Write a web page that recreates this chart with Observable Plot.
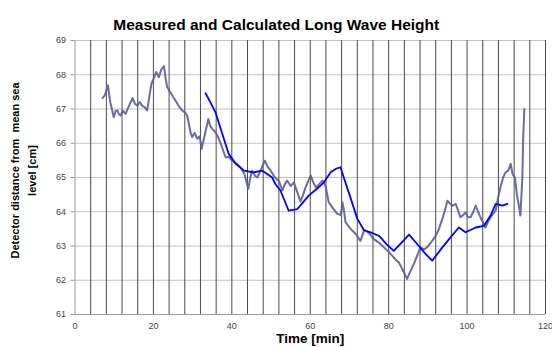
<!DOCTYPE html>
<html>
<head>
<meta charset="utf-8">
<script src="https://cdn.jsdelivr.net/npm/d3@7"></script>
<script src="https://cdn.jsdelivr.net/npm/@observablehq/plot@0.6"></script>
<style>
  html, body { margin: 0; padding: 0; background: #fff; }
</style>
</head>
<body>
<div id="chart"></div>
<script>
const titleText = "Measured and Calculated Long Wave Height";
const xLabel = "Time [min]";
const yLabel = "Detector distance from  mean sea\nlevel [cm]";
const xTicks = [0, 20, 40, 60, 80, 100, 120];
const yTicks = [61, 62, 63, 64, 65, 66, 67, 68, 69];

const measuredTime = [7, 7.6, 8.4, 9.0, 9.9, 10.4, 10.8, 11.2, 11.6, 12.2, 12.9, 13.8, 14.7, 15.3, 15.9, 16.5, 17.1, 17.8, 18.4, 19.0, 19.5, 20.1, 20.7, 21.4, 22.0, 22.7, 23.1, 23.5, 24.5, 25.6, 26.4, 27.3, 28.0, 28.6, 29.5, 29.9, 30.5, 31.2, 31.8, 32.3, 33.2, 34.0, 34.5, 35.0, 35.6, 36.3, 37.3, 38.4, 39.2, 40.1, 41.2, 42.2, 43.2, 44.2, 44.7, 45.2, 45.9, 46.5, 47.5, 48.4, 49.2, 49.9, 51.0, 52.0, 52.9, 53.5, 54.1, 55.0, 55.8, 56.6, 57.5, 58.2, 58.8, 59.5, 60.1, 60.8, 61.4, 62.2, 63.1, 63.9, 64.7, 65.8, 66.9, 67.8, 68.2, 68.6, 69.0, 70.3, 71.6, 72.2, 72.8, 73.7, 74.1, 75.2, 76.2, 77.5, 78.8, 79.8, 80.9, 81.8, 82.6, 83.6, 84.7, 85.5, 86.4, 87.2, 88.1, 89.0, 89.8, 90.4, 91.1, 92.0, 92.8, 94.0, 95.0, 95.6, 96.2, 97.1, 98.3, 99.0, 99.6, 100.2, 100.9, 101.6, 102.2, 102.8, 103.4, 104.0, 104.7, 105.3, 106.0, 106.7, 107.3, 107.9, 108.5, 109.2, 109.8, 110.5, 111.1, 111.6, 112.2, 112.7, 113.2, 113.6, 114.1, 114.3, 114.6];
const measuredValue = [67.32, 67.4, 67.69, 67.2, 66.76, 66.95, 66.96, 66.85, 66.81, 66.95, 66.86, 67.1, 67.32, 67.15, 67.1, 67.2, 67.1, 67.05, 66.96, 67.4, 67.74, 67.9, 68.08, 67.93, 68.15, 68.25, 67.9, 67.64, 67.45, 67.25, 67.1, 66.96, 66.9, 66.81, 66.3, 66.18, 66.3, 66.13, 66.2, 65.84, 66.3, 66.71, 66.5, 66.42, 66.35, 66.23, 65.95, 65.59, 65.6, 65.49, 65.4, 65.3, 65.1, 64.67, 65.0, 65.2, 65.05, 65.0, 65.25, 65.49, 65.3, 65.2, 65.0, 64.9, 64.62, 64.8, 64.91, 64.75, 64.86, 64.6, 64.3, 64.5, 64.71, 64.9, 65.06, 64.85, 64.71, 64.8, 64.91, 64.76, 64.28, 64.1, 63.94, 63.9, 64.28, 64.03, 63.69, 63.5, 63.35, 63.25, 63.15, 63.45, 63.45, 63.35, 63.2, 63.1, 62.96, 62.85, 62.72, 62.6, 62.52, 62.3, 62.04, 62.25, 62.47, 62.7, 62.96, 62.9, 62.96, 63.05, 63.15, 63.3, 63.49, 63.9, 64.32, 64.25, 64.17, 64.23, 63.84, 63.9, 63.98, 63.85, 63.84, 64.0, 64.18, 64.0, 63.84, 63.7, 63.54, 63.7, 63.84, 63.95, 64.03, 64.4, 64.71, 65.0, 65.15, 65.2, 65.4, 65.1, 65.0, 64.5, 64.18, 63.89, 65.0, 66.13, 67.0];

const calcTime = [33.3, 34.5, 35.8, 37.5, 39.2, 41.0, 43.1, 45.5, 47.8, 50.3, 51.1, 52.4, 54.5, 56.7, 58.0, 59.6, 61.5, 63.5, 65.2, 66.5, 67.7, 70.0, 72.0, 73.7, 75.4, 77.5, 79.5, 81.3, 83.3, 85.2, 87.7, 89.4, 91.1, 93.7, 96.2, 97.9, 99.6, 102.2, 104.3, 106.0, 107.3, 109.0, 110.3];
const calcValue = [67.46, 67.2, 66.91, 66.3, 65.69, 65.4, 65.2, 65.15, 65.2, 65.0, 64.81, 64.62, 64.03, 64.08, 64.25, 64.47, 64.65, 64.86, 65.15, 65.25, 65.3, 64.5, 63.8, 63.46, 63.4, 63.3, 63.05, 62.86, 63.1, 63.33, 63.0, 62.77, 62.57, 62.96, 63.31, 63.54, 63.40, 63.54, 63.59, 63.89, 64.23, 64.18, 64.23];

const measured = measuredTime.map((t, i) => ({t, v: measuredValue[i]}));
const calculated = calcTime.map((t, i) => ({t, v: calcValue[i]}));
const xGrid = d3.range(4, 121, 4);

const chart = Plot.plot({
  width: 552,
  height: 347,
  marginLeft: 74.5,
  marginRight: 7,
  marginTop: 40,
  marginBottom: 33,
  style: {fontFamily: "'Liberation Sans', Arial, sans-serif", fontSize: "9px", color: "#333", background: "#fff"},
  x: {domain: [0, 120]},
  y: {domain: [61, 69]},
  marks: [
    Plot.ruleY(yTicks, {stroke: "#c4c4c4", strokeWidth: 1}),
    Plot.ruleX(xGrid, {stroke: "#4a4a4a", strokeWidth: 1}),
    Plot.ruleX([0], {stroke: "#9a9a9a"}),
    Plot.ruleY([61], {stroke: "#9a9a9a"}),
    Plot.axisY({ticks: yTicks, tickSize: 4, tickPadding: 5, stroke: "#9a9a9a", label: null, fill: "#444"}),
    Plot.axisX({ticks: xTicks, tickSize: 0, tickPadding: 8, label: null, fill: "#444"}),
    Plot.line(measured, {x: "t", y: "v", stroke: "#5c5c94", strokeWidth: 2, strokeOpacity: 0.9}),
    Plot.line(calculated, {x: "t", y: "v", stroke: "#0000ff", strokeWidth: 1.8}),
    Plot.text([titleText], {frameAnchor: "top", textAnchor: "middle", dx: -34, dy: -22, fontSize: 15.5, fontWeight: "bold", fill: "#000"}),
    Plot.text([xLabel], {frameAnchor: "bottom", textAnchor: "middle", dy: 28, fontSize: 13.5, fontWeight: "bold", fill: "#000"}),
    Plot.text([yLabel], {frameAnchor: "left", textAnchor: "middle", dx: -53, dy: -7, rotate: -90, fontSize: 11, fontWeight: "bold", lineHeight: 1.6, fill: "#000"})
  ]
});
document.getElementById("chart").appendChild(chart);
</script>
</body>
</html>
